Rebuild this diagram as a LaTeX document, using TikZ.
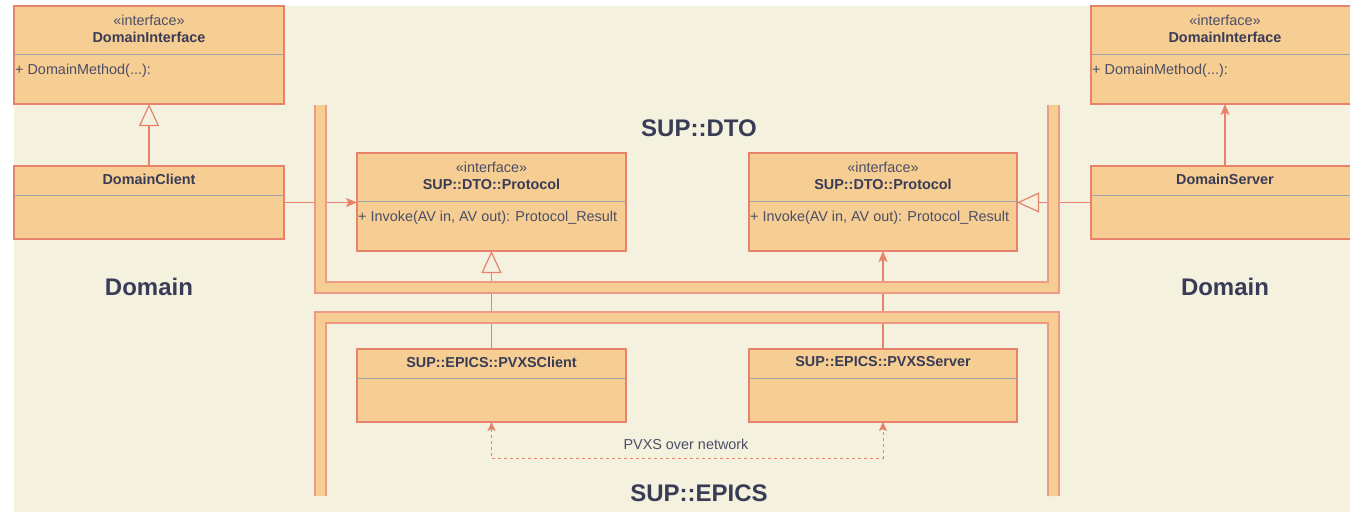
\documentclass[tikz,border=0pt]{standalone}
\usepackage{fontspec}
\setmainfont{Liberation Sans}
\usetikzlibrary{arrows.meta,calc}
\definecolor{paper}{HTML}{F4F1DE}
\definecolor{boxfill}{HTML}{F6CD92}
\definecolor{boxline}{HTML}{E8826C}
\definecolor{edgeline}{HTML}{EE9A84}
\definecolor{ink}{HTML}{393C56}
\definecolor{softink}{HTML}{4B4E66}
\definecolor{rule}{HTML}{9EA3AA}
\tikzset{
  classbox/.style={draw=boxline, fill=boxfill, line width=1.2pt, inner sep=0pt, outer sep=0pt},
  divider/.style={draw=rule, line width=1pt},
  stereo/.style={inner sep=0pt, text=softink, font=\fontsize{14.4}{16}\selectfont},
  classname/.style={inner sep=0pt, text=ink, font=\fontsize{14.4}{16}\selectfont\bfseries},
  member/.style={inner sep=0pt, anchor=west, text=softink, font=\fontsize{14.4}{16}\selectfont},
  heading/.style={inner sep=0pt, text=ink, font=\fontsize{24}{28}\selectfont\bfseries},
  conn/.style={draw=boxline, line width=1.2pt},
  filledtip/.style={-{Stealth[length=11pt, width=9pt, inset=2.5pt]}},
  opentip/.style={-{Triangle[open, length=22pt, width=20pt, fill=paper]}},
  bandedge/.style={draw=edgeline, line width=1.2pt},
}
\begin{document}
\begin{tikzpicture}[x=1pt, y=-1pt]
\useasboundingbox (0,0) rectangle (1350,512);
\clip (0,0) rectangle (1350,512);
\fill[paper] (14,6) rectangle (1350,512);

% --- left domain classes ---
\node[classbox, minimum width=270, minimum height=98] (dil) at (149,55) {};
\draw[divider] (dil.west |- 0,54) -- (dil.east |- 0,54);
\node[stereo] (dilst) at (149,20) {«interface»};
\node[classname] (dilt) at (149,37) {DomainInterface};
\node[member] (dilm) at (15,71) {+ DomainMethod(...):};

\node[classbox, minimum width=270, minimum height=73] (dc) at (149,202.5) {};
\draw[divider] (dc.west |- 0,195) -- (dc.east |- 0,195);
\node[classname] (dct) at (149,179) {DomainClient};

% --- right domain classes ---
\node[classbox, minimum width=270, minimum height=98] (dir) at (1226,55) {};
\draw[divider] (dir.west |- 0,54) -- (dir.east |- 0,54);
\node[stereo] (dirst) at (1225,20) {«interface»};
\node[classname] (dirt) at (1225,37) {DomainInterface};
\node[member] (dirm) at (1092,71) {+ DomainMethod(...):};

\node[classbox, minimum width=270, minimum height=73] (ds) at (1226,202.5) {};
\draw[divider] (ds.west |- 0,195) -- (ds.east |- 0,195);
\node[classname] (dst) at (1225,179) {DomainServer};

% --- protocol interfaces ---
\node[classbox, minimum width=269, minimum height=98] (pl) at (491.5,202) {};
\draw[divider] (pl.west |- 0,201) -- (pl.east |- 0,201);
\node[stereo] (plst) at (491.5,167) {«interface»};
\node[classname] (plt) at (491.5,184) {SUP::DTO::Protocol};
\node[member] (plm) at (358,218) {+ Invoke(AV in, AV out): Protocol\_Result};

\node[classbox, minimum width=268, minimum height=98] (pr) at (883,202) {};
\draw[divider] (pr.west |- 0,201) -- (pr.east |- 0,201);
\node[stereo] (prst) at (883,167) {«interface»};
\node[classname] (prt) at (883,184) {SUP::DTO::Protocol};
\node[member] (prm) at (750,218) {+ Invoke(AV in, AV out): Protocol\_Result};

% --- PVXS implementations ---
\node[classbox, minimum width=269, minimum height=73] (pc) at (491.5,385.5) {};
\draw[divider] (pc.west |- 0,378) -- (pc.east |- 0,378);
\node[classname] (pct) at (491.5,362) {SUP::EPICS::PVXSClient};

\node[classbox, minimum width=268, minimum height=73] (ps) at (883,385.5) {};
\draw[divider] (ps.west |- 0,378) -- (ps.east |- 0,378);
\node[classname] (pst) at (883,362) {SUP::EPICS::PVXSServer};

% --- relations ---
\draw[conn, opentip] (dc.north) -- (dil.south);
\draw[conn, filledtip] (ds.north -| 1225,0) -- (dir.south -| 1225,0);
\draw[conn, filledtip] (dc.east) -- (dc.east -| pl.west);
\draw[conn, opentip] (ds.west) -- (ds.west -| pr.east);
\draw[conn, opentip] (pc.north) -- (pl.south);
\draw[conn, filledtip] (ps.north) -- (pr.south);
\draw[conn, line width=1pt, dash pattern=on 3pt off 3pt,
      {Stealth[length=9pt, width=8pt, inset=2pt]}-{Stealth[length=9pt, width=8pt, inset=2pt]}]
  (pc.south) -- ($(pc.south)+(0,36)$) -| (ps.south);
\node[stereo] (net) at (686,444) {PVXS over network};

% --- package frames ---
\fill[boxfill] (315,105) -- (315,293) -- (1059,293) -- (1059,105) -- (1048,105)
  -- (1048,282) -- (326,282) -- (326,105) -- cycle;
\draw[bandedge] (315,105) -- (315,293) -- (1059,293) -- (1059,105);
\draw[bandedge] (326,105) -- (326,282) -- (1048,282) -- (1048,105);

\fill[boxfill] (315,496) -- (315,312) -- (1059,312) -- (1059,496) -- (1048,496)
  -- (1048,323) -- (326,323) -- (326,496) -- cycle;
\draw[bandedge] (315,496) -- (315,312) -- (1059,312) -- (1059,496);
\draw[bandedge] (326,496) -- (326,323) -- (1048,323) -- (1048,496);

% --- headings ---
\node[heading] (dto) at (699,128) {SUP::DTO};
\node[heading] (epics) at (699,493) {SUP::EPICS};
\node[heading] (doml) at (149,287) {Domain};
\node[heading] (domr) at (1225,287) {Domain};
\end{tikzpicture}
\end{document}
